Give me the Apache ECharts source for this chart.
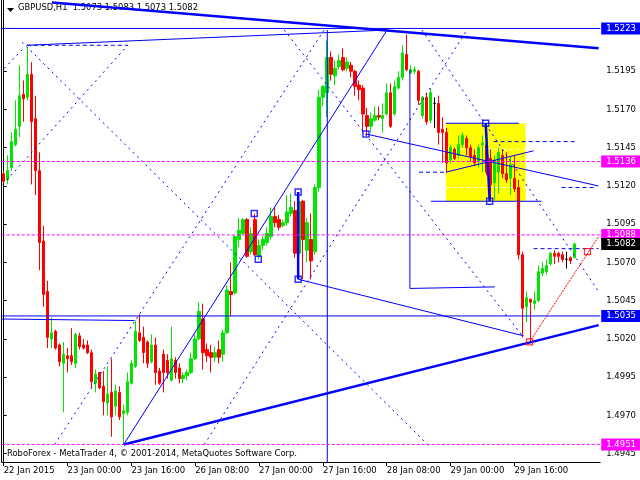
<!DOCTYPE html>
<html><head><meta charset="utf-8">
<script src="https://cdn.jsdelivr.net/npm/echarts@6/dist/echarts.min.js"></script>
<style>html,body{margin:0;padding:0;background:#fff}#c{width:640px;height:480px}</style>
</head><body><div id="c"></div>
<script>
// ---- OHLC values (per hourly bar, from 22 Jan 2015 08:00) ----
const opens = [1.5128,1.5124,1.5132,1.5147,1.5159,1.5180,1.5178,1.5193,1.5164,1.5130,
1.5084,1.5051,1.5020,1.5025,1.5016,1.5004,1.5009,1.5009,1.5004,1.5022,
1.5016,1.5016,1.5011,1.4991,1.4998,1.4989,1.4978,1.4985,1.4976,1.4985,
1.4971,1.4972,1.4991,1.5002,1.5024,1.5021,1.5018,1.5005,1.5016,1.4999,
1.5010,1.5006,1.4993,1.5006,1.5001,1.4994,1.4996,1.4998,1.5007,1.5020,
1.5033,1.5013,1.5011,1.5008,1.5013,1.5010,1.5024,1.5051,1.5050,1.5085,
1.5089,1.5098,1.5077,1.5098,1.5074,1.5081,1.5083,1.5087,1.5100,1.5098,
1.5094,1.5096,1.5102,1.5104,1.5076,1.5110,1.5078,1.5085,1.5077,1.5119,
1.5178,1.5181,1.5204,1.5192,1.5198,1.5204,1.5197,1.5199,1.5195,1.5186,
1.5184,1.5166,1.5159,1.5163,1.5166,1.5164,1.5167,1.5181,1.5167,1.5184,
1.5191,1.5206,1.5194,1.5195,1.5195,1.5166,1.5178,1.5163,1.5174,1.5174,
1.5157,1.5155,1.5137,1.5144,1.5140,1.5147,1.5151,1.5145,1.5140,1.5136,
1.5147,1.5147,1.5138,1.5122,1.5129,1.5140,1.5128,1.5125,1.5125,1.5119,
1.5075,1.5041,1.5046,1.5043,1.5045,1.5063,1.5064,1.5069,1.5076,1.5076,
1.5075,1.5072,1.5073,1.5073];
const closes = [1.5123,1.5130,1.5149,1.5157,1.5179,1.5177,1.5193,1.5162,1.5130,1.5083,
1.5049,1.5021,1.5024,1.5014,1.5005,1.5010,1.5007,1.5005,1.5023,1.5015,
1.5014,1.5011,1.4992,1.4997,1.4988,1.4979,1.4984,1.4969,1.4986,1.4969,
1.4973,1.4992,1.5004,1.5025,1.5019,1.5011,1.5004,1.5016,1.4998,1.4991,
1.4998,1.4998,1.5007,1.4998,1.4994,1.4996,1.4998,1.5007,1.5020,1.5038,
1.5011,1.5009,1.5008,1.5011,1.5008,1.5024,1.5052,1.5049,1.5087,1.5091,
1.5098,1.5074,1.5089,1.5075,1.5081,1.5085,1.5089,1.5100,1.5096,1.5093,
1.5096,1.5103,1.5106,1.5076,1.5110,1.5085,1.5096,1.5071,1.5119,1.5178,
1.5185,1.5204,1.5193,1.5197,1.5202,1.5196,1.5201,1.5195,1.5185,1.5183,
1.5167,1.5159,1.5164,1.5166,1.5165,1.5166,1.5181,1.5159,1.5185,1.5191,
1.5207,1.5196,1.5196,1.5196,1.5176,1.5178,1.5162,1.5181,1.5174,1.5155,
1.5155,1.5135,1.5145,1.5138,1.5147,1.5153,1.5145,1.5139,1.5135,1.5145,
1.5148,1.5129,1.5121,1.5137,1.5142,1.5128,1.5124,1.5134,1.5118,1.5075,
1.5040,1.5047,1.5044,1.5045,1.5064,1.5066,1.5068,1.5076,1.5074,1.5074,
1.5072,1.5072,1.5071,1.5082];
const highs = [1.5130,1.5140,1.5155,1.5176,1.5199,1.5189,1.5211,1.5201,1.5179,1.5142,
1.5094,1.5058,1.5034,1.5026,1.5017,1.5018,1.5014,1.5027,1.5024,1.5024,
1.5020,1.5019,1.5013,1.5000,1.4998,1.4999,1.5002,1.5007,1.4990,1.4989,
1.4977,1.4998,1.5006,1.5032,1.5036,1.5028,1.5019,1.5023,1.5021,1.5001,
1.5013,1.5010,1.5028,1.5008,1.5004,1.4998,1.5000,1.5011,1.5023,1.5044,
1.5043,1.5017,1.5016,1.5015,1.5019,1.5026,1.5055,1.5070,1.5088,1.5099,
1.5099,1.5099,1.5093,1.5102,1.5085,1.5087,1.5093,1.5106,1.5106,1.5101,
1.5098,1.5114,1.5115,1.5110,1.5116,1.5111,1.5099,1.5102,1.5121,1.5183,
1.5186,1.5215,1.5208,1.5202,1.5206,1.5210,1.5204,1.5201,1.5196,1.5189,
1.5186,1.5171,1.5168,1.5172,1.5172,1.5174,1.5187,1.5187,1.5189,1.5195,
1.5212,1.5219,1.5199,1.5198,1.5196,1.5179,1.5181,1.5184,1.5178,1.5179,
1.5165,1.5158,1.5147,1.5145,1.5153,1.5155,1.5153,1.5147,1.5144,1.5147,
1.5153,1.5161,1.5144,1.5140,1.5145,1.5144,1.5142,1.5139,1.5140,1.5124,
1.5077,1.5051,1.5046,1.5051,1.5068,1.5070,1.5072,1.5077,1.5078,1.5077,
1.5077,1.5077,1.5074,1.5083];
const lows = [1.5121,1.5121,1.5130,1.5146,1.5152,1.5162,1.5176,1.5121,1.5114,1.5065,
1.5041,1.5014,1.5014,1.5013,1.5002,1.4972,1.4998,1.5003,1.5001,1.5013,
1.5013,1.5010,1.4988,1.4985,1.4987,1.4970,1.4970,1.4956,1.4970,1.4967,
1.4951,1.4970,1.4990,1.5001,1.5018,1.5004,1.5001,1.5004,1.4990,1.4990,
1.4985,1.4994,1.4992,1.4994,1.4991,1.4991,1.4993,1.4997,1.5006,1.5019,
1.5000,1.5005,1.4998,1.5005,1.5004,1.5005,1.5023,1.5035,1.5049,1.5080,
1.5088,1.5073,1.5075,1.5074,1.5072,1.5078,1.5081,1.5085,1.5093,1.5091,
1.5093,1.5094,1.5100,1.5073,1.5060,1.5059,1.5070,1.5059,1.5075,1.5116,
1.5172,1.5165,1.5189,1.5186,1.5196,1.5195,1.5195,1.5191,1.5179,1.5176,
1.5155,1.5153,1.5155,1.5162,1.5163,1.5155,1.5166,1.5158,1.5166,1.5183,
1.5189,1.5195,1.5193,1.5193,1.5173,1.5164,1.5160,1.5161,1.5158,1.5147,
1.5135,1.5129,1.5135,1.5137,1.5138,1.5145,1.5140,1.5136,1.5133,1.5132,
1.5129,1.5127,1.5111,1.5111,1.5115,1.5125,1.5122,1.5114,1.5116,1.5072,
1.5021,1.5031,1.5018,1.5039,1.5044,1.5061,1.5062,1.5068,1.5069,1.5070,
1.5070,1.5066,1.5069,1.5073];

// ---- axis ticks / labels ----
const priceTicks = [1.4945,1.4970,1.4995,1.5020,1.5045,1.5070,1.5095,1.5120,1.5145,1.5170,1.5195];
const totalSlots = 150;   // bars + empty right shift
const firstBarUTC = Date.UTC(2015,0,22,8);
const timeLabelEvery = 16;

// ---- price tags on the right axis ----
const tagValues = [1.5223, 1.5136, 1.5088, 1.5082, 1.5035, 1.4951];
const tagColors = ['#0000ff', '#ff00ff', '#ff00ff', '#000000', '#0000ff', '#ff00ff'];
const tagLineTypes = ['solid', 'dashed', 'dashed', 'none', 'solid', 'dashed'];

// ---- drawn objects, anchored at [bar index, price] ----
const solidLines = [
  [[5.8,1.5212],[96.6,1.5222]],
  [[81.1,1.5222],[81.1,1.4939]],
  [[101.8,1.5196],[101.8,1.5053],[123.1,1.5054]],
  [[90.8,1.5154],[149.1,1.5120]],
  [[73.8,1.5059],[130.3,1.5022]],
  [[-0.5,1.5033],[32.8,1.5032]],
  [[30.1,1.4951],[96.1,1.5222]],
  [[110.8,1.5129],[132.8,1.5143]],
  [[110.8,1.5161],[129.1,1.5161]],
  [[107.1,1.5110],[134.8,1.5110]]
];
const thickLines = [
  [[12.1,1.5240],[149.1,1.5210]],
  [[30.1,1.4951],[149.1,1.5029]],
  [[120.8,1.5161],[121.8,1.5110]],
  [[73.8,1.5116],[73.8,1.5059]]
];
const dashedLines = [
  [[5.8,1.5212],[31.1,1.5212]],
  [[122.8,1.5149],[143.3,1.5149]],
  [[104.1,1.5129],[110.8,1.5129]],
  [[139.8,1.5119],[148.6,1.5119]],
  [[132.8,1.5079],[149.1,1.5079]]
];
const whiteDashed = [
  [[110.8,1.5144],[130.8,1.5144]],
  [[110.8,1.5119],[130.8,1.5119]]
];
const dottedLines = [
  [[-0.9,1.5194],[5.3,1.5211]],
  [[-0.2,1.5121],[31.1,1.5212]],
  [[4.6,1.5214],[106.6,1.4950]],
  [[12.8,1.4951],[80.3,1.5222]],
  [[50.3,1.4951],[116.1,1.5222]],
  [[70.3,1.5222],[130.3,1.5021]],
  [[104.8,1.5222],[149.1,1.5051]]
];
const redLines = [ [[131.8,1.5018],[149.1,1.5087]] ];
const yellowBox = [[110.8,1.5161],[130.8,1.5110]];
const blueSquares = [[90.8,1.5154],[120.8,1.5161],[121.8,1.5110],[73.8,1.5116],[73.8,1.5059],[62.8,1.5102],[63.8,1.5072]];
const redSquares = [[131.8,1.5018],[146.3,1.5077]];

// ---- build ----
const MON = ['Jan','Feb','Mar','Apr','May','Jun','Jul','Aug','Sep','Oct','Nov','Dec'];
const cats = [];
let t = firstBarUTC;
while (cats.length < opens.length) {
  const d = new Date(t);
  const wd = d.getUTCDay();
  if (wd !== 0 && wd !== 6) {
    cats.push(d.getUTCDate() + ' ' + MON[d.getUTCMonth()] + ' ' + String(d.getUTCHours()).padStart(2,'0') + ':00');
  }
  t += 3600000;
}
while (cats.length < totalSlots) cats.push('');

const candles = opens.map((o,i) => {
  const item = {value:[o, closes[i], lows[i], highs[i]]};
  if (o === closes[i]) item.itemStyle = {color:'#000', borderColor:'#000', color0:'#000', borderColor0:'#000'};
  return item;
});

const FONT = 'DejaVu Sans';
const showIdx = (i) => i % timeLabelEvery === 0 && i < opens.length;

function segSeries(list, style, z) {
  return list.map(s => ({
    type:'line', xAxisIndex:1, yAxisIndex:0, data:s, symbol:'none', silent:true,
    lineStyle:style, z:z, animation:false
  }));
}

const tagSeries = tagValues.map((v, k) => ({
  type:'line', xAxisIndex:1, yAxisIndex:0, symbol:'none', silent:true, z: 20 + k, animation:false,
  data:[[-0.5, v],[totalSlots - 0.5, v]],
  itemStyle:{color:tagColors[k]},
  lineStyle: tagLineTypes[k] === 'none' ? {width:0, opacity:0} :
    {color:tagColors[k], width:1, opacity:1, cap:'butt', type: tagLineTypes[k] === 'dashed' ? [3,2] : 'solid'},
  endLabel:{show:true, distance:1, formatter: () => v.toFixed(4), color:'#ffffff', opacity:1,
    backgroundColor:tagColors[k], padding:[2,5,1,5], fontFamily:FONT, fontSize:8.5}
}));

const series = [
  { // yellow rectangle
    type:'line', xAxisIndex:1, yAxisIndex:0, data:yellowBox, symbol:'none', silent:true,
    lineStyle:{opacity:0}, z:1,
    markArea:{silent:true, itemStyle:{color:'#ffff00', opacity:1},
      data:[[{coord:yellowBox[0]},{coord:yellowBox[1]}]]}
  },
  ...segSeries(whiteDashed, {color:'#ffffff', width:1, type:[4,3]}, 2),
  {
    type:'candlestick', xAxisIndex:0, yAxisIndex:0, data:candles, barWidth:3, z:3,
    itemStyle:{color:'#00e600', color0:'#ff0000', borderColor:'#00e600', borderColor0:'#ff0000', borderWidth:1}
  },
  ...segSeries(solidLines, {color:'#0000ff', width:1}, 4),
  ...segSeries(thickLines, {color:'#0000ff', width:2.5}, 4),
  ...segSeries(dashedLines, {color:'#0000ff', width:1, type:[4,3]}, 4),
  ...segSeries(dottedLines, {color:'#0000ff', width:1, type:[2,4]}, 4),
  ...segSeries(redLines, {color:'#ff0000', width:1, type:[2,1]}, 4),
  {type:'scatter', xAxisIndex:1, yAxisIndex:0, data:blueSquares, symbol:'rect', symbolSize:6, silent:true, z:5,
    itemStyle:{color:'rgba(0,0,0,0)', borderColor:'#0000ff', borderWidth:1.5}},
  {type:'scatter', xAxisIndex:1, yAxisIndex:0, data:redSquares, symbol:'rect', symbolSize:6, silent:true, z:5,
    itemStyle:{color:'rgba(0,0,0,0)', borderColor:'#ff0000', borderWidth:1.2}},
  ...tagSeries
];

const chart = echarts.init(document.getElementById('c'), null, {renderer:'canvas'});
chart.setOption({
  animation:false,
  backgroundColor:'#ffffff',
  grid:{left:1.7, right:39.8, top:0, bottom:18, containLabel:false},
  xAxis:[
    {type:'category', data:cats, boundaryGap:true, gridIndex:0,
      axisLine:{show:true, lineStyle:{color:'#000', width:1}},
      axisTick:{show:true, alignWithLabel:true, interval:showIdx, length:4, lineStyle:{color:'#000'}},
      axisLabel:{show:true, interval:showIdx, align:'left', margin:4, color:'#000', fontFamily:FONT, fontSize:8.5,
        formatter:(v,i)=> i===0 ? '22 Jan 2015' : v},
      splitLine:{show:false}},
    {type:'value', min:-0.5, max:totalSlots-0.5, gridIndex:0, show:false}
  ],
  yAxis:[
    {type:'value', position:'right', min:1.49395, max:1.52416,
      axisLine:{show:true, lineStyle:{color:'#000'}},
      axisTick:{show:true, customValues:priceTicks, length:3, lineStyle:{color:'#000'}},
      axisLabel:{show:true, customValues:priceTicks, margin:6, color:'#000', fontFamily:FONT, fontSize:8.5,
        formatter:(v)=>v.toFixed(4)},
      splitLine:{show:false}},
    {type:'value', position:'left', min:1.49395, max:1.52416,
      axisLine:{show:true, lineStyle:{color:'#000'}}, axisTick:{show:false}, axisLabel:{show:false}, splitLine:{show:false}}
  ],
  graphic:[
    {type:'polygon', shape:{points:[[7,8],[14,8],[10.5,12]]}, style:{fill:'#000'}, silent:true},
    {type:'text', left:18, top:4, style:{text:'GBPUSD,H1  1.5073 1.5083 1.5073 1.5082', fill:'#000', font:'8.4px "DejaVu Sans"'}, silent:true},
    {type:'text', left:7, top:450, style:{text:'RoboForex - MetaTrader 4, © 2001-2014, MetaQuotes Software Corp.', fill:'#000', font:'8.4px "DejaVu Sans"'}, silent:true}
  ],
  series:series
});
</script></body></html>
